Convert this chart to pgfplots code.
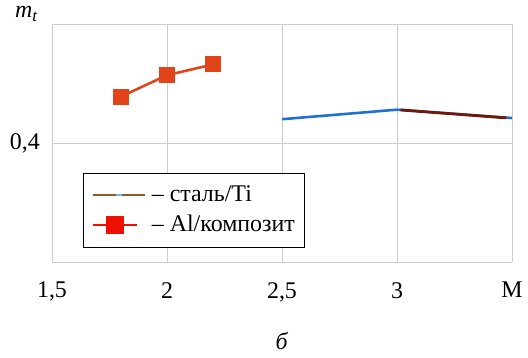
\documentclass[border=0pt]{standalone}
\usepackage{fontspec}
\setmainfont{Liberation Serif}
\usepackage{pgfplots}
\pgfplotsset{compat=1.18}
\definecolor{orline}{HTML}{E2441A}
\definecolor{legred}{HTML}{EE1100}
\definecolor{blueln}{HTML}{1F6FD6}
\definecolor{brownln}{HTML}{731808}
\definecolor{legbrown}{HTML}{8B5A2B}
\definecolor{legblue}{HTML}{7FB0E0}
\definecolor{gridc}{HTML}{CCCCCC}
\begin{document}
\fontsize{24}{28}\selectfont
\begin{tikzpicture}
\useasboundingbox (-52bp,-96bp) rectangle (476bp,262bp);
\begin{axis}[
  scale only axis,
  width=460bp, height=238bp,
  xmin=1.5, xmax=3.5, ymin=0.3, ymax=0.5,
  xtick={1.5,2,2.5,3,3.5},
  xticklabels={{1,5},2,{2,5},3,M},
  ytick={0.4},
  yticklabels={{0,4},{}},
  major tick length=0pt,
  xmajorgrids, ymajorgrids,
  grid style={gridc, line width=0.8pt},
  axis line style={gridc, line width=0.8pt},
  axis x line*=bottom, axis y line*=left,
  xticklabel style={yshift=-12bp, font=\fontsize{24}{28}\selectfont},
  yticklabel style={xshift=-4bp, font=\fontsize{24}{28}\selectfont},
  xlabel={\textit{б}},
  xlabel style={inner sep=0pt, yshift=-23bp, font=\fontsize{24}{28}\selectfont},
  clip=false,
  legend cell align=left,
  legend style={at={(0.067,0.374)}, anchor=north west, draw=black, line width=1pt,
    font=\fontsize{24}{28}\selectfont, inner xsep=8bp, inner ysep=10bp,
    row sep=6bp},
]
% top border line
\draw[gridc, line width=0.8pt] (rel axis cs:0,1) -- (rel axis cs:1,1);
\addplot[blueln, line width=2.6pt, forget plot] coordinates {(2.5,0.420) (3.0,0.428) (3.5,0.421)};
\addplot[brownln, line width=2.8pt,
  legend image code/.code={
    \draw[legbrown, line width=2.6pt] (0bp,0bp) -- (52bp,0bp);
    \draw[legblue, line width=2.6pt] (23bp,0bp) -- (29bp,0bp);}]
  coordinates {(3.015,0.4278) (3.475,0.4211)};
\addlegendentry{\hspace*{4bp}– сталь/Ti}
\addplot[orline, line width=2.6pt, mark=square*, mark size=7.5bp,
  mark options={fill=orline, draw=orline, line width=0pt},
  legend image code/.code={
    \draw[legred, line width=1.4pt] (0bp,0bp) -- (44bp,0bp);
    \fill[legred] (15bp,-7.5bp) rectangle (30bp,7.5bp);}]
  coordinates {(1.8,0.439) (2.0,0.457) (2.2,0.466)};
\addlegendentry{\hspace*{4bp}– Al/композит}
\node[anchor=base east] at (rel axis cs:0,1) [xshift=-6bp, yshift=6bp] {\textit{m}\textsubscript{\textit{t}}};
\end{axis}
\end{tikzpicture}
\end{document}
